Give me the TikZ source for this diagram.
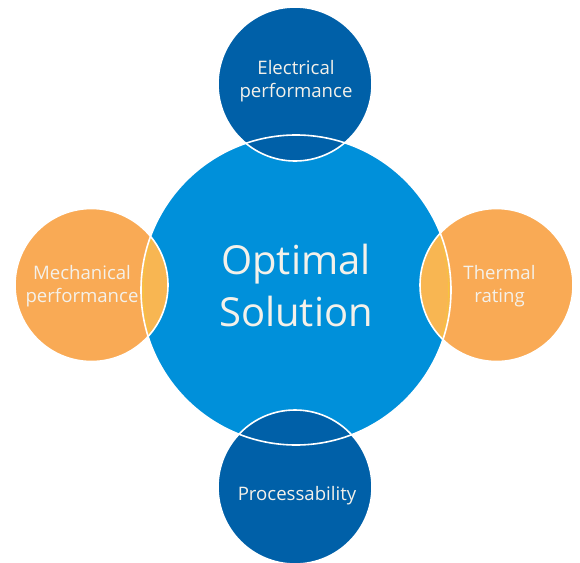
\documentclass[tikz,border=0pt]{standalone}
\usepackage{fontspec}
\setmainfont{Open Sans}
\definecolor{mainblue}{HTML}{0090DA}
\definecolor{darkblue}{HTML}{0060A8}
\definecolor{orangec}{HTML}{F9AA55}
\definecolor{lensorange}{HTML}{F8B652}
\definecolor{lensline}{HTML}{F6C43C}
\definecolor{txt}{HTML}{F4F1EA}
\begin{document}
\begin{tikzpicture}[x=1pt,y=-1pt,
  small/.style={text=txt,font=\fontsize{18.6}{23.5}\selectfont,align=center},
  big/.style={text=txt,font=\fontsize{40}{52}\selectfont,align=center},
  ring/.style={draw=white,line width=1.6pt}]
\useasboundingbox (0,0) rectangle (580,562);
% main
\fill[mainblue] (296,290) circle (155);
% satellites
\fill[darkblue] (295,84) circle (77);
\fill[darkblue] (295,487) circle (77);
\fill[orangec] (91.5,285) circle (76.5);
\fill[orangec] (496.5,285) circle (76.5);
% orange lenses
\begin{scope}
  \clip (91.5,285) circle (76.5);
  \fill[lensorange] (296,290) circle (155);
  \draw[lensline,line width=0.8pt] (296,290) circle (152.5);
\end{scope}
\begin{scope}
  \clip (496.5,285) circle (76.5);
  \fill[lensorange] (296,290) circle (155);
  \draw[lensline,line width=0.8pt] (296,290) circle (152.5);
\end{scope}
% outlines
\draw[ring] (296,290) circle (155);
\draw[ring] (295,84) circle (77);
\draw[ring] (295,487) circle (77);
\draw[ring] (91.5,285) circle (76.5);
\draw[ring] (496.5,285) circle (76.5);
% texts
\node[big] (c) at (296,285) {Optimal\\Solution};
\node[small] (t) at (296,81) {Electrical\\performance};
\node[small] (b) at (297,496) {Processability};
\node[small] (l) at (82,286) {Mechanical\\performance};
\node[small] (r) at (499.5,286) {Thermal\\rating};
\end{tikzpicture}
\end{document}
